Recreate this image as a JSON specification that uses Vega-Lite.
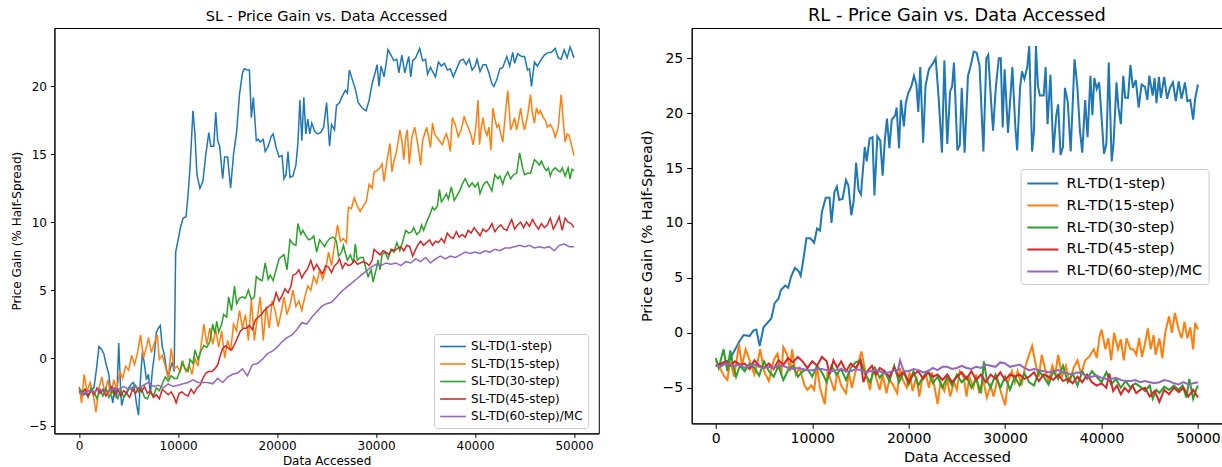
{
"$schema":"https://vega.github.io/schema/vega-lite/v6.json",
"padding":{"left":9.4,"top":6,"right":0,"bottom":0},
"spacing":39.3,
"config":{"font":"DejaVu Sans","view":{"stroke":"black","strokeWidth":1},
"axis":{"grid":false,"domainColor":"black","tickColor":"black","labelColor":"black","titleColor":"black","titleFontWeight":"normal","labelFont":"DejaVu Sans","titleFont":"DejaVu Sans","labelFlush":false,"domainWidth":1,"tickWidth":1},
"legend":{"labelFont":"DejaVu Sans","labelColor":"black"}},
"resolve":{"scale":{"color":"independent"},"legend":{"color":"independent"}},
"datasets":{
"sl1":[{"x":0,"y":-2.5},{"x":300,"y":-2.8},{"x":600,"y":-2.6},{"x":900,"y":-2.8},{"x":1200,"y":-2.3},{"x":1500,"y":-2.2},{"x":1800,"y":-0.5},{"x":2000,"y":0.85},{"x":2300,"y":0.6},{"x":2500,"y":0.3},{"x":2700,"y":-0.4},{"x":3000,"y":-1.2},{"x":3200,"y":-2.5},{"x":3400,"y":-3.3},{"x":3600,"y":-2.2},{"x":3800,"y":-2.9},{"x":4000,"y":1.1},{"x":4200,"y":-2.5},{"x":4300,"y":-3.5},{"x":4500,"y":-2.9},{"x":4800,"y":-2.5},{"x":5000,"y":-2.2},{"x":5300,"y":-1.9},{"x":5500,"y":-1.8},{"x":5800,"y":-3.4},{"x":6000,"y":-4.2},{"x":6200,"y":-1.5},{"x":6400,"y":0.5},{"x":6600,"y":-0.5},{"x":6800,"y":-1.6},{"x":7000,"y":-1.2},{"x":7200,"y":-2.6},{"x":7400,"y":-0.9},{"x":7600,"y":0.2},{"x":7800,"y":1.9},{"x":8000,"y":2.2},{"x":8200,"y":2.4},{"x":8400,"y":0.8},{"x":8600,"y":0.3},{"x":8800,"y":-0.7},{"x":9000,"y":-1.5},{"x":9200,"y":-0.8},{"x":9400,"y":-0.3},{"x":9600,"y":-1.0},{"x":9750,"y":7.8},{"x":10000,"y":8.7},{"x":10200,"y":9.5},{"x":10500,"y":10.3},{"x":10800,"y":10.4},{"x":11000,"y":12.0},{"x":11200,"y":14.0},{"x":11500,"y":18.2},{"x":11700,"y":16.5},{"x":11900,"y":13.5},{"x":12200,"y":12.5},{"x":12500,"y":13.0},{"x":12800,"y":15.0},{"x":13100,"y":16.6},{"x":13300,"y":15.6},{"x":13600,"y":15.6},{"x":13800,"y":18.1},{"x":14000,"y":16.0},{"x":14200,"y":15.6},{"x":14500,"y":13.2},{"x":14700,"y":14.8},{"x":15000,"y":14.8},{"x":15300,"y":12.5},{"x":15600,"y":15.0},{"x":15900,"y":16.6},{"x":16200,"y":19.4},{"x":16500,"y":21.0},{"x":16700,"y":21.3},{"x":17000,"y":21.2},{"x":17200,"y":21.2},{"x":17400,"y":17.7},{"x":17600,"y":19.2},{"x":17900,"y":16.0},{"x":18100,"y":16.1},{"x":18300,"y":15.9},{"x":18600,"y":16.1},{"x":18800,"y":15.2},{"x":19100,"y":15.6},{"x":19400,"y":16.3},{"x":19600,"y":16.5},{"x":19900,"y":15.5},{"x":20200,"y":14.8},{"x":20500,"y":14.9},{"x":20700,"y":13.2},{"x":20900,"y":13.5},{"x":21100,"y":15.2},{"x":21300,"y":13.3},{"x":21600,"y":13.4},{"x":21900,"y":14.2},{"x":22100,"y":15.8},{"x":22300,"y":19.0},{"x":22500,"y":16.0},{"x":22700,"y":19.2},{"x":22900,"y":16.5},{"x":23100,"y":17.6},{"x":23300,"y":16.5},{"x":23500,"y":17.3},{"x":23800,"y":16.7},{"x":24100,"y":16.5},{"x":24400,"y":16.6},{"x":24700,"y":17.0},{"x":25000,"y":18.8},{"x":25300,"y":15.6},{"x":25500,"y":17.2},{"x":25800,"y":16.8},{"x":26000,"y":18.6},{"x":26300,"y":18.8},{"x":26600,"y":19.3},{"x":26900,"y":19.7},{"x":27100,"y":19.5},{"x":27300,"y":21.2},{"x":27600,"y":20.5},{"x":27900,"y":19.8},{"x":28200,"y":18.8},{"x":28500,"y":18.5},{"x":28800,"y":18.3},{"x":29000,"y":18.2},{"x":29300,"y":19.0},{"x":29600,"y":20.2},{"x":29900,"y":21.0},{"x":30100,"y":21.6},{"x":30300,"y":20.0},{"x":30500,"y":21.5},{"x":30800,"y":20.7},{"x":31000,"y":21.6},{"x":31200,"y":22.7},{"x":31500,"y":22.3},{"x":31800,"y":21.9},{"x":32100,"y":22.0},{"x":32300,"y":21.0},{"x":32600,"y":22.3},{"x":32900,"y":21.0},{"x":33100,"y":21.6},{"x":33300,"y":22.2},{"x":33500,"y":20.7},{"x":33700,"y":21.9},{"x":34000,"y":22.1},{"x":34400,"y":22.8},{"x":34700,"y":21.9},{"x":35000,"y":22.0},{"x":35200,"y":20.9},{"x":35500,"y":21.4},{"x":35700,"y":21.1},{"x":36000,"y":20.7},{"x":36300,"y":21.8},{"x":36600,"y":21.5},{"x":36900,"y":21.7},{"x":37200,"y":21.2},{"x":37500,"y":21.3},{"x":37800,"y":20.7},{"x":38200,"y":21.4},{"x":38500,"y":21.9},{"x":38800,"y":22.0},{"x":39100,"y":21.6},{"x":39400,"y":22.0},{"x":39700,"y":21.2},{"x":40000,"y":21.5},{"x":40200,"y":22.0},{"x":40500,"y":21.1},{"x":40800,"y":21.6},{"x":41100,"y":21.6},{"x":41400,"y":21.0},{"x":41700,"y":20.2},{"x":41900,"y":20.0},{"x":42200,"y":20.5},{"x":42500,"y":21.3},{"x":42800,"y":21.4},{"x":43200,"y":22.2},{"x":43500,"y":21.5},{"x":43800,"y":22.5},{"x":44000,"y":21.7},{"x":44300,"y":22.4},{"x":44700,"y":22.2},{"x":45000,"y":22.2},{"x":45300,"y":21.2},{"x":45500,"y":21.3},{"x":45700,"y":20.0},{"x":46000,"y":21.8},{"x":46300,"y":21.5},{"x":46700,"y":22.0},{"x":47000,"y":22.3},{"x":47400,"y":22.5},{"x":47700,"y":22.5},{"x":48100,"y":22.8},{"x":48400,"y":22.1},{"x":48700,"y":22.0},{"x":49000,"y":22.7},{"x":49300,"y":22.1},{"x":49600,"y":22.9},{"x":50000,"y":22.1}],
"sl2":[{"x":0,"y":-2.1},{"x":250,"y":-3.3},{"x":500,"y":-1.2},{"x":800,"y":-2.5},{"x":1100,"y":-1.8},{"x":1400,"y":-2.6},{"x":1700,"y":-4.0},{"x":2000,"y":-2.2},{"x":2300,"y":-1.4},{"x":2600,"y":-2.6},{"x":2900,"y":-1.6},{"x":3200,"y":-2.8},{"x":3500,"y":-1.6},{"x":3800,"y":-2.4},{"x":4100,"y":-1.0},{"x":4400,"y":-1.5},{"x":4700,"y":-0.6},{"x":5000,"y":-0.9},{"x":5300,"y":0.2},{"x":5600,"y":-0.5},{"x":5900,"y":0.4},{"x":6200,"y":1.7},{"x":6500,"y":0.0},{"x":6800,"y":0.8},{"x":7000,"y":1.5},{"x":7300,"y":0.4},{"x":7600,"y":1.1},{"x":7900,"y":1.7},{"x":8100,"y":-0.1},{"x":8400,"y":0.2},{"x":8700,"y":-0.6},{"x":9000,"y":-1.5},{"x":9300,"y":0.7},{"x":9600,"y":-0.8},{"x":9900,"y":-0.6},{"x":10200,"y":-1.0},{"x":10500,"y":-0.3},{"x":10800,"y":-1.0},{"x":11100,"y":-0.5},{"x":11400,"y":-1.2},{"x":11700,"y":0.0},{"x":12000,"y":-0.6},{"x":12300,"y":0.8},{"x":12600,"y":2.5},{"x":12900,"y":1.0},{"x":13200,"y":2.2},{"x":13500,"y":1.0},{"x":13800,"y":2.1},{"x":14100,"y":0.8},{"x":14400,"y":2.0},{"x":14700,"y":0.0},{"x":15000,"y":1.3},{"x":15300,"y":0.5},{"x":15600,"y":2.5},{"x":15900,"y":2.0},{"x":16200,"y":3.5},{"x":16500,"y":2.2},{"x":16800,"y":3.2},{"x":17100,"y":1.3},{"x":17400,"y":4.3},{"x":17700,"y":1.3},{"x":18000,"y":3.0},{"x":18300,"y":4.5},{"x":18600,"y":1.3},{"x":18900,"y":3.8},{"x":19200,"y":2.2},{"x":19500,"y":4.2},{"x":19800,"y":3.5},{"x":20100,"y":2.3},{"x":20400,"y":3.3},{"x":20700,"y":4.5},{"x":21000,"y":3.2},{"x":21300,"y":3.9},{"x":21600,"y":5.0},{"x":21900,"y":3.8},{"x":22200,"y":4.2},{"x":22500,"y":3.5},{"x":22800,"y":4.5},{"x":23100,"y":5.3},{"x":23400,"y":5.0},{"x":23700,"y":6.0},{"x":24000,"y":5.5},{"x":24300,"y":6.5},{"x":24600,"y":5.8},{"x":24900,"y":6.5},{"x":25200,"y":7.8},{"x":25500,"y":6.8},{"x":25800,"y":8.3},{"x":26100,"y":9.8},{"x":26400,"y":8.6},{"x":26700,"y":8.8},{"x":27000,"y":8.5},{"x":27200,"y":11.1},{"x":27500,"y":11.0},{"x":27800,"y":11.8},{"x":28100,"y":11.2},{"x":28400,"y":10.8},{"x":28700,"y":11.2},{"x":29000,"y":11.5},{"x":29300,"y":12.8},{"x":29600,"y":12.5},{"x":29800,"y":13.7},{"x":30100,"y":13.8},{"x":30400,"y":14.0},{"x":30600,"y":14.3},{"x":30800,"y":13.0},{"x":31100,"y":14.5},{"x":31400,"y":15.8},{"x":31600,"y":13.7},{"x":31800,"y":14.5},{"x":32000,"y":15.0},{"x":32200,"y":15.8},{"x":32400,"y":16.8},{"x":32600,"y":16.0},{"x":32800,"y":14.6},{"x":33000,"y":16.3},{"x":33150,"y":16.8},{"x":33350,"y":14.3},{"x":33600,"y":16.2},{"x":33900,"y":17.0},{"x":34200,"y":15.8},{"x":34500,"y":14.2},{"x":34700,"y":16.0},{"x":35100,"y":17.0},{"x":35300,"y":16.3},{"x":35500,"y":15.5},{"x":35700,"y":17.3},{"x":35900,"y":16.5},{"x":36100,"y":16.3},{"x":36400,"y":16.0},{"x":36700,"y":15.7},{"x":36900,"y":16.2},{"x":37100,"y":16.5},{"x":37300,"y":16.0},{"x":37500,"y":15.2},{"x":37700,"y":17.7},{"x":38000,"y":17.2},{"x":38300,"y":16.3},{"x":38600,"y":16.8},{"x":38900,"y":17.8},{"x":39100,"y":17.3},{"x":39300,"y":17.0},{"x":39600,"y":16.4},{"x":39800,"y":15.7},{"x":40050,"y":16.8},{"x":40300,"y":19.0},{"x":40450,"y":15.7},{"x":40600,"y":16.8},{"x":40800,"y":17.7},{"x":41000,"y":16.8},{"x":41200,"y":16.4},{"x":41400,"y":17.0},{"x":41600,"y":15.3},{"x":41800,"y":18.4},{"x":42000,"y":17.6},{"x":42200,"y":17.0},{"x":42400,"y":17.2},{"x":42600,"y":16.5},{"x":42800,"y":15.9},{"x":43000,"y":17.5},{"x":43300,"y":19.7},{"x":43600,"y":16.8},{"x":43800,"y":17.2},{"x":44000,"y":17.7},{"x":44200,"y":16.8},{"x":44400,"y":17.5},{"x":44600,"y":18.4},{"x":44800,"y":17.4},{"x":45000,"y":16.8},{"x":45300,"y":17.8},{"x":45600,"y":19.4},{"x":45800,"y":18.0},{"x":46000,"y":17.3},{"x":46200,"y":18.4},{"x":46400,"y":18.0},{"x":46600,"y":18.2},{"x":46900,"y":17.7},{"x":47100,"y":17.5},{"x":47300,"y":17.0},{"x":47600,"y":17.2},{"x":47900,"y":16.8},{"x":48100,"y":16.2},{"x":48400,"y":17.0},{"x":48700,"y":19.4},{"x":48900,"y":17.5},{"x":49100,"y":15.9},{"x":49300,"y":16.5},{"x":49500,"y":16.4},{"x":49700,"y":15.8},{"x":50000,"y":14.9}],
"sl3":[{"x":0,"y":-2.2},{"x":300,"y":-2.5},{"x":600,"y":-2.3},{"x":900,"y":-2.9},{"x":1200,"y":-2.2},{"x":1500,"y":-2.5},{"x":1800,"y":-3.0},{"x":2100,"y":-2.3},{"x":2400,"y":-2.8},{"x":2700,"y":-2.2},{"x":3000,"y":-2.9},{"x":3300,"y":-2.4},{"x":3600,"y":-2.8},{"x":3900,"y":-3.0},{"x":4200,"y":-2.3},{"x":4500,"y":-2.9},{"x":4800,"y":-2.6},{"x":5100,"y":-2.2},{"x":5400,"y":-2.4},{"x":5700,"y":-2.0},{"x":6000,"y":-2.5},{"x":6300,"y":-2.2},{"x":6600,"y":-2.9},{"x":6900,"y":-3.0},{"x":7200,"y":-2.5},{"x":7500,"y":-2.8},{"x":7800,"y":-2.2},{"x":8100,"y":-2.4},{"x":8400,"y":-1.9},{"x":8700,"y":-1.4},{"x":9000,"y":-1.7},{"x":9300,"y":-1.3},{"x":9600,"y":-1.5},{"x":9900,"y":-1.5},{"x":10200,"y":-0.9},{"x":10400,"y":-0.3},{"x":10700,"y":-0.8},{"x":11000,"y":-1.0},{"x":11200,"y":-0.1},{"x":11500,"y":-0.4},{"x":11700,"y":0.6},{"x":12000,"y":-0.1},{"x":12300,"y":0.5},{"x":12600,"y":0.9},{"x":12900,"y":0.8},{"x":13200,"y":1.2},{"x":13500,"y":2.5},{"x":13700,"y":1.8},{"x":13900,"y":2.7},{"x":14100,"y":1.9},{"x":14400,"y":2.5},{"x":14600,"y":3.2},{"x":14900,"y":3.0},{"x":15100,"y":4.5},{"x":15400,"y":3.5},{"x":15700,"y":5.3},{"x":15900,"y":4.0},{"x":16200,"y":4.4},{"x":16500,"y":4.5},{"x":16800,"y":4.4},{"x":17100,"y":5.0},{"x":17400,"y":4.3},{"x":17700,"y":4.5},{"x":17900,"y":6.0},{"x":18200,"y":5.8},{"x":18500,"y":5.7},{"x":18800,"y":7.0},{"x":19100,"y":5.8},{"x":19300,"y":6.1},{"x":19600,"y":5.7},{"x":19900,"y":6.5},{"x":20200,"y":7.3},{"x":20500,"y":7.5},{"x":20700,"y":7.6},{"x":21000,"y":6.5},{"x":21300,"y":8.7},{"x":21600,"y":8.4},{"x":21900,"y":8.3},{"x":22100,"y":9.9},{"x":22400,"y":9.1},{"x":22600,"y":9.4},{"x":22900,"y":9.0},{"x":23200,"y":8.7},{"x":23500,"y":8.8},{"x":23700,"y":9.0},{"x":24000,"y":7.8},{"x":24300,"y":8.7},{"x":24500,"y":8.5},{"x":24800,"y":8.2},{"x":25000,"y":8.5},{"x":25300,"y":8.8},{"x":25700,"y":8.9},{"x":26000,"y":8.6},{"x":26200,"y":7.5},{"x":26500,"y":7.8},{"x":26700,"y":8.3},{"x":26900,"y":7.7},{"x":27100,"y":7.2},{"x":27400,"y":7.6},{"x":27700,"y":7.0},{"x":27900,"y":8.4},{"x":28100,"y":7.2},{"x":28400,"y":7.4},{"x":28700,"y":7.4},{"x":29000,"y":6.5},{"x":29200,"y":6.0},{"x":29500,"y":6.5},{"x":29700,"y":5.6},{"x":30000,"y":6.5},{"x":30200,"y":7.2},{"x":30400,"y":6.5},{"x":30600,"y":7.6},{"x":30900,"y":7.8},{"x":31200,"y":7.3},{"x":31500,"y":8.0},{"x":31800,"y":7.8},{"x":32100,"y":8.5},{"x":32400,"y":7.9},{"x":32700,"y":8.6},{"x":33000,"y":9.4},{"x":33300,"y":9.2},{"x":33600,"y":9.3},{"x":33800,"y":9.6},{"x":34100,"y":9.1},{"x":34400,"y":9.3},{"x":34600,"y":9.8},{"x":34800,"y":9.4},{"x":35100,"y":10.0},{"x":35400,"y":10.5},{"x":35700,"y":11.1},{"x":35900,"y":10.9},{"x":36200,"y":11.2},{"x":36400,"y":12.4},{"x":36600,"y":11.5},{"x":36800,"y":11.7},{"x":37100,"y":12.1},{"x":37300,"y":11.7},{"x":37600,"y":12.6},{"x":37900,"y":11.6},{"x":38200,"y":12.0},{"x":38500,"y":12.4},{"x":38700,"y":12.8},{"x":39000,"y":13.2},{"x":39200,"y":12.9},{"x":39400,"y":12.6},{"x":39700,"y":12.9},{"x":40000,"y":12.6},{"x":40300,"y":12.9},{"x":40500,"y":12.1},{"x":40800,"y":12.7},{"x":41000,"y":12.9},{"x":41200,"y":13.0},{"x":41500,"y":12.6},{"x":41700,"y":12.3},{"x":42000,"y":13.5},{"x":42300,"y":13.2},{"x":42500,"y":13.4},{"x":42800,"y":12.8},{"x":43000,"y":13.3},{"x":43300,"y":13.7},{"x":43600,"y":13.2},{"x":43900,"y":13.5},{"x":44200,"y":13.6},{"x":44500,"y":15.1},{"x":44800,"y":14.0},{"x":45000,"y":13.5},{"x":45300,"y":13.6},{"x":45600,"y":13.6},{"x":45800,"y":14.1},{"x":46000,"y":14.6},{"x":46300,"y":14.4},{"x":46500,"y":14.2},{"x":46700,"y":14.5},{"x":47000,"y":14.0},{"x":47200,"y":13.8},{"x":47400,"y":14.0},{"x":47600,"y":13.4},{"x":47800,"y":13.8},{"x":48100,"y":14.0},{"x":48400,"y":13.8},{"x":48600,"y":13.7},{"x":48800,"y":14.0},{"x":49100,"y":13.4},{"x":49400,"y":14.0},{"x":49600,"y":13.2},{"x":49800,"y":13.9},{"x":50000,"y":13.8}],
"sl4":[{"x":0,"y":-2.4},{"x":300,"y":-2.6},{"x":600,"y":-2.3},{"x":900,"y":-2.8},{"x":1200,"y":-2.4},{"x":1500,"y":-2.7},{"x":1800,"y":-2.2},{"x":2100,"y":-2.6},{"x":2400,"y":-2.3},{"x":2700,"y":-2.8},{"x":3000,"y":-2.4},{"x":3300,"y":-2.1},{"x":3600,"y":-2.7},{"x":3900,"y":-2.3},{"x":4200,"y":-2.8},{"x":4500,"y":-2.4},{"x":4800,"y":-2.6},{"x":5100,"y":-2.9},{"x":5400,"y":-2.3},{"x":5700,"y":-2.6},{"x":6000,"y":-2.2},{"x":6300,"y":-2.5},{"x":6600,"y":-2.1},{"x":6900,"y":-2.6},{"x":7200,"y":-2.4},{"x":7500,"y":-2.9},{"x":7800,"y":-2.7},{"x":8100,"y":-3.0},{"x":8400,"y":-2.3},{"x":8700,"y":-2.5},{"x":9000,"y":-2.7},{"x":9300,"y":-2.5},{"x":9600,"y":-2.9},{"x":9800,"y":-3.3},{"x":10100,"y":-2.6},{"x":10400,"y":-2.5},{"x":10700,"y":-2.7},{"x":11000,"y":-2.8},{"x":11300,"y":-2.3},{"x":11600,"y":-2.6},{"x":11900,"y":-2.2},{"x":12200,"y":-2.0},{"x":12500,"y":-1.5},{"x":12800,"y":-1.1},{"x":13100,"y":-1.0},{"x":13400,"y":-1.0},{"x":13700,"y":-0.8},{"x":14000,"y":-0.5},{"x":14300,"y":0.3},{"x":14500,"y":0.7},{"x":14800,"y":0.9},{"x":15100,"y":0.7},{"x":15400,"y":0.6},{"x":15700,"y":1.0},{"x":16000,"y":1.5},{"x":16300,"y":2.0},{"x":16600,"y":2.2},{"x":16900,"y":2.2},{"x":17200,"y":2.4},{"x":17500,"y":2.1},{"x":17800,"y":2.8},{"x":18100,"y":3.0},{"x":18400,"y":3.2},{"x":18700,"y":3.5},{"x":19000,"y":3.7},{"x":19300,"y":3.9},{"x":19600,"y":4.0},{"x":19900,"y":4.8},{"x":20200,"y":4.2},{"x":20500,"y":4.6},{"x":20800,"y":5.1},{"x":21100,"y":4.8},{"x":21400,"y":5.3},{"x":21600,"y":6.1},{"x":21900,"y":6.2},{"x":22200,"y":6.5},{"x":22500,"y":5.9},{"x":22800,"y":6.3},{"x":23100,"y":6.6},{"x":23400,"y":7.2},{"x":23700,"y":6.5},{"x":24000,"y":6.9},{"x":24300,"y":6.5},{"x":24600,"y":6.2},{"x":24900,"y":6.8},{"x":25200,"y":6.7},{"x":25500,"y":6.3},{"x":25800,"y":6.8},{"x":26100,"y":7.0},{"x":26300,"y":7.3},{"x":26600,"y":6.6},{"x":26900,"y":7.0},{"x":27200,"y":6.8},{"x":27500,"y":6.9},{"x":27800,"y":7.2},{"x":28100,"y":6.9},{"x":28400,"y":7.0},{"x":28700,"y":7.1},{"x":29000,"y":7.0},{"x":29300,"y":6.8},{"x":29600,"y":7.2},{"x":29800,"y":8.0},{"x":30100,"y":7.8},{"x":30400,"y":7.6},{"x":30700,"y":7.9},{"x":31000,"y":7.8},{"x":31300,"y":7.6},{"x":31600,"y":8.0},{"x":31900,"y":7.9},{"x":32200,"y":8.1},{"x":32500,"y":8.2},{"x":32800,"y":7.9},{"x":33100,"y":8.3},{"x":33400,"y":8.2},{"x":33700,"y":7.5},{"x":34000,"y":8.0},{"x":34200,"y":8.3},{"x":34500,"y":8.6},{"x":34800,"y":8.3},{"x":35100,"y":8.5},{"x":35400,"y":8.7},{"x":35700,"y":8.3},{"x":36000,"y":8.6},{"x":36300,"y":8.5},{"x":36600,"y":8.8},{"x":36900,"y":8.5},{"x":37200,"y":9.2},{"x":37500,"y":8.9},{"x":37800,"y":8.8},{"x":38100,"y":9.3},{"x":38400,"y":8.9},{"x":38700,"y":9.1},{"x":39000,"y":8.9},{"x":39300,"y":9.4},{"x":39600,"y":9.2},{"x":39900,"y":9.6},{"x":40200,"y":9.3},{"x":40500,"y":9.0},{"x":40800,"y":9.5},{"x":41100,"y":9.3},{"x":41400,"y":9.5},{"x":41700,"y":9.9},{"x":42000,"y":9.3},{"x":42300,"y":9.6},{"x":42600,"y":9.8},{"x":42900,"y":9.5},{"x":43200,"y":9.4},{"x":43500,"y":9.9},{"x":43700,"y":10.2},{"x":44000,"y":9.5},{"x":44300,"y":9.8},{"x":44600,"y":10.0},{"x":44900,"y":9.6},{"x":45200,"y":10.0},{"x":45500,"y":9.7},{"x":45800,"y":10.2},{"x":46100,"y":9.8},{"x":46400,"y":9.5},{"x":46700,"y":9.9},{"x":47000,"y":9.6},{"x":47300,"y":9.8},{"x":47600,"y":10.3},{"x":47900,"y":9.5},{"x":48200,"y":9.9},{"x":48500,"y":10.4},{"x":48800,"y":9.4},{"x":49100,"y":10.3},{"x":49400,"y":10.0},{"x":49700,"y":9.9},{"x":50000,"y":9.6}],
"sl5":[{"x":0,"y":-2.5},{"x":500,"y":-2.6},{"x":1000,"y":-2.4},{"x":1500,"y":-2.5},{"x":2000,"y":-2.3},{"x":2500,"y":-2.5},{"x":3000,"y":-2.4},{"x":3500,"y":-2.2},{"x":4000,"y":-2.3},{"x":4500,"y":-2.1},{"x":5000,"y":-2.3},{"x":5500,"y":-2.1},{"x":6000,"y":-2.2},{"x":6500,"y":-2.0},{"x":7000,"y":-1.8},{"x":7500,"y":-2.1},{"x":8000,"y":-2.0},{"x":8500,"y":-2.2},{"x":9000,"y":-1.9},{"x":9500,"y":-2.1},{"x":10000,"y":-2.0},{"x":10500,"y":-1.9},{"x":11000,"y":-1.8},{"x":11500,"y":-1.6},{"x":12000,"y":-1.8},{"x":12500,"y":-1.8},{"x":13000,"y":-1.8},{"x":13500,"y":-1.9},{"x":14000,"y":-1.5},{"x":14500,"y":-1.8},{"x":15000,"y":-1.4},{"x":15500,"y":-1.2},{"x":16000,"y":-1.1},{"x":16500,"y":-0.8},{"x":17000,"y":-1.3},{"x":17500,"y":-0.5},{"x":18000,"y":-0.4},{"x":18500,"y":-0.1},{"x":19000,"y":0.3},{"x":19500,"y":0.5},{"x":20000,"y":0.8},{"x":20500,"y":1.2},{"x":21000,"y":1.5},{"x":21500,"y":1.7},{"x":22000,"y":2.1},{"x":22500,"y":2.6},{"x":23000,"y":2.5},{"x":23500,"y":3.0},{"x":24000,"y":3.4},{"x":24500,"y":3.8},{"x":25000,"y":4.0},{"x":25500,"y":4.1},{"x":26000,"y":4.5},{"x":26500,"y":4.9},{"x":27000,"y":5.2},{"x":27500,"y":5.5},{"x":28000,"y":5.8},{"x":28500,"y":6.1},{"x":29000,"y":6.4},{"x":29500,"y":6.7},{"x":30000,"y":6.9},{"x":30500,"y":6.8},{"x":31000,"y":7.0},{"x":31500,"y":6.9},{"x":32000,"y":7.0},{"x":32500,"y":6.8},{"x":33000,"y":7.1},{"x":33500,"y":7.0},{"x":34000,"y":7.3},{"x":34500,"y":7.1},{"x":35000,"y":7.4},{"x":35500,"y":7.0},{"x":36000,"y":7.3},{"x":36500,"y":7.5},{"x":37000,"y":7.3},{"x":37500,"y":7.5},{"x":38000,"y":7.4},{"x":38500,"y":7.6},{"x":39000,"y":7.8},{"x":39500,"y":7.7},{"x":40000,"y":7.8},{"x":40500,"y":7.7},{"x":41000,"y":7.9},{"x":41500,"y":7.8},{"x":42000,"y":8.0},{"x":42500,"y":7.9},{"x":43000,"y":8.1},{"x":43500,"y":8.1},{"x":44000,"y":8.2},{"x":44500,"y":8.3},{"x":45000,"y":8.2},{"x":45500,"y":8.3},{"x":46000,"y":8.1},{"x":46500,"y":8.2},{"x":47000,"y":8.1},{"x":47500,"y":8.2},{"x":48000,"y":7.9},{"x":48500,"y":8.3},{"x":49000,"y":8.4},{"x":49500,"y":8.2},{"x":50000,"y":8.2}],
"rl1":[{"x":0,"y":-3.0},{"x":500,"y":-3.0},{"x":1000,"y":-2.7},{"x":1500,"y":-2.4},{"x":1700,"y":-2.0},{"x":2200,"y":-1.2},{"x":2500,"y":-0.7},{"x":2900,"y":-0.2},{"x":3500,"y":-0.3},{"x":3900,"y":0.2},{"x":4200,"y":0.3},{"x":4550,"y":-1.2},{"x":4950,"y":0.5},{"x":5350,"y":0.9},{"x":5750,"y":1.3},{"x":6100,"y":2.7},{"x":6500,"y":3.1},{"x":6750,"y":3.9},{"x":7200,"y":4.3},{"x":7500,"y":4.1},{"x":7800,"y":5.1},{"x":8200,"y":5.9},{"x":8600,"y":5.6},{"x":8800,"y":5.2},{"x":9050,"y":6.5},{"x":9400,"y":8.6},{"x":9800,"y":8.6},{"x":10200,"y":8.2},{"x":10500,"y":9.5},{"x":10800,"y":9.3},{"x":11000,"y":11.0},{"x":11400,"y":12.3},{"x":11800,"y":12.3},{"x":12000,"y":10.0},{"x":12300,"y":12.8},{"x":12550,"y":13.3},{"x":12800,"y":12.1},{"x":13150,"y":12.2},{"x":13500,"y":13.9},{"x":13750,"y":13.4},{"x":14050,"y":10.7},{"x":14300,"y":12.0},{"x":14550,"y":15.5},{"x":14800,"y":13.0},{"x":15050,"y":12.6},{"x":15450,"y":16.9},{"x":15650,"y":15.6},{"x":15950,"y":17.7},{"x":16250,"y":17.8},{"x":16450,"y":12.5},{"x":16750,"y":17.9},{"x":17050,"y":17.5},{"x":17300,"y":14.3},{"x":17550,"y":17.8},{"x":17750,"y":19.5},{"x":18000,"y":16.8},{"x":18250,"y":19.4},{"x":18600,"y":19.8},{"x":18750,"y":20.5},{"x":19000,"y":16.8},{"x":19200,"y":21.2},{"x":19500,"y":18.8},{"x":19700,"y":20.9},{"x":19950,"y":21.8},{"x":20300,"y":22.5},{"x":20550,"y":23.4},{"x":20800,"y":22.6},{"x":21000,"y":20.1},{"x":21200,"y":24.2},{"x":21500,"y":17.3},{"x":21750,"y":22.5},{"x":22100,"y":24.0},{"x":22500,"y":24.5},{"x":22800,"y":25.0},{"x":23100,"y":21.5},{"x":23450,"y":16.4},{"x":23700,"y":24.8},{"x":24000,"y":17.2},{"x":24300,"y":22.0},{"x":24500,"y":22.4},{"x":24700,"y":24.6},{"x":25050,"y":16.6},{"x":25300,"y":17.1},{"x":25500,"y":22.3},{"x":25800,"y":16.4},{"x":26150,"y":23.4},{"x":26400,"y":24.2},{"x":26750,"y":25.6},{"x":27050,"y":25.5},{"x":27350,"y":24.3},{"x":27750,"y":16.5},{"x":28050,"y":25.0},{"x":28250,"y":25.3},{"x":28550,"y":21.0},{"x":28750,"y":18.4},{"x":29050,"y":22.5},{"x":29350,"y":25.0},{"x":29550,"y":25.0},{"x":29750,"y":18.7},{"x":29950,"y":24.0},{"x":30300,"y":18.2},{"x":30550,"y":21.5},{"x":30750,"y":24.2},{"x":31050,"y":18.9},{"x":31250,"y":16.6},{"x":31550,"y":22.3},{"x":31750,"y":23.8},{"x":32000,"y":23.1},{"x":32300,"y":24.2},{"x":32500,"y":26.1},{"x":32800,"y":16.5},{"x":33000,"y":18.5},{"x":33200,"y":26.1},{"x":33400,"y":22.5},{"x":33600,"y":21.6},{"x":34000,"y":21.6},{"x":34200,"y":24.2},{"x":34400,"y":19.0},{"x":34700,"y":23.5},{"x":35000,"y":16.4},{"x":35300,"y":19.8},{"x":35500,"y":20.8},{"x":35750,"y":16.2},{"x":36000,"y":16.9},{"x":36200,"y":22.3},{"x":36500,"y":21.0},{"x":36800,"y":16.5},{"x":37200,"y":24.9},{"x":37500,"y":22.3},{"x":37750,"y":18.5},{"x":38000,"y":16.4},{"x":38300,"y":21.2},{"x":38550,"y":17.8},{"x":38850,"y":23.4},{"x":39050,"y":19.8},{"x":39250,"y":23.2},{"x":39500,"y":22.2},{"x":39750,"y":22.8},{"x":40050,"y":19.0},{"x":40250,"y":16.3},{"x":40500,"y":17.2},{"x":40750,"y":24.6},{"x":41050,"y":15.6},{"x":41250,"y":17.3},{"x":41550,"y":22.8},{"x":41750,"y":20.5},{"x":42000,"y":19.0},{"x":42250,"y":23.4},{"x":42450,"y":21.4},{"x":42750,"y":21.4},{"x":43000,"y":24.4},{"x":43250,"y":22.3},{"x":43550,"y":23.0},{"x":43850,"y":20.5},{"x":44150,"y":22.6},{"x":44500,"y":22.4},{"x":44750,"y":21.2},{"x":44950,"y":23.4},{"x":45300,"y":21.6},{"x":45500,"y":23.2},{"x":45700,"y":20.9},{"x":45950,"y":23.3},{"x":46150,"y":21.4},{"x":46500,"y":23.3},{"x":46800,"y":21.3},{"x":47100,"y":22.3},{"x":47400,"y":22.8},{"x":47700,"y":21.1},{"x":48000,"y":22.9},{"x":48300,"y":21.3},{"x":48650,"y":22.8},{"x":48900,"y":21.1},{"x":49200,"y":21.2},{"x":49500,"y":19.4},{"x":49700,"y":21.3},{"x":50000,"y":22.6}],
"rl2":[{"x":0,"y":-2.5},{"x":300,"y":-3.0},{"x":600,"y":-3.5},{"x":900,"y":-4.0},{"x":1200,"y":-4.3},{"x":1500,"y":-2.5},{"x":1900,"y":-4.0},{"x":2200,"y":-2.3},{"x":2400,"y":-1.0},{"x":2700,"y":-3.0},{"x":3100,"y":-1.5},{"x":3500,"y":-2.5},{"x":4000,"y":-3.8},{"x":4300,"y":-2.8},{"x":4600,"y":-1.5},{"x":5000,"y":-3.5},{"x":5500,"y":-4.4},{"x":6000,"y":-2.5},{"x":6400,"y":-1.9},{"x":6800,"y":-3.8},{"x":7000,"y":-1.3},{"x":7400,"y":-2.0},{"x":7700,"y":-3.5},{"x":7900,"y":-1.5},{"x":8300,"y":-3.8},{"x":8700,"y":-3.2},{"x":9200,"y":-4.8},{"x":9500,"y":-5.2},{"x":9900,"y":-4.8},{"x":10200,"y":-5.2},{"x":10500,"y":-3.0},{"x":10800,"y":-5.0},{"x":11300,"y":-6.5},{"x":11600,"y":-3.5},{"x":12000,"y":-4.5},{"x":12300,"y":-5.3},{"x":12600,"y":-3.6},{"x":13000,"y":-4.8},{"x":13500,"y":-5.5},{"x":13800,"y":-3.6},{"x":14100,"y":-5.0},{"x":14500,"y":-3.5},{"x":14800,"y":-2.7},{"x":15100,"y":-1.7},{"x":15500,"y":-3.5},{"x":16000,"y":-5.2},{"x":16300,"y":-3.2},{"x":16600,"y":-4.0},{"x":17000,"y":-5.2},{"x":17300,"y":-3.8},{"x":17700,"y":-5.5},{"x":18000,"y":-4.2},{"x":18400,"y":-4.8},{"x":18800,"y":-5.5},{"x":19100,"y":-3.2},{"x":19400,"y":-4.3},{"x":19800,"y":-5.0},{"x":20100,"y":-3.6},{"x":20400,"y":-5.3},{"x":20800,"y":-4.0},{"x":21100,"y":-5.8},{"x":21400,"y":-4.2},{"x":21800,"y":-3.8},{"x":22100,"y":-5.0},{"x":22400,"y":-3.6},{"x":22800,"y":-5.5},{"x":23000,"y":-6.5},{"x":23300,"y":-4.5},{"x":23700,"y":-5.3},{"x":24000,"y":-4.2},{"x":24300,"y":-5.8},{"x":24700,"y":-4.5},{"x":25000,"y":-5.2},{"x":25300,"y":-3.5},{"x":25700,"y":-4.0},{"x":26000,"y":-5.8},{"x":26300,"y":-4.0},{"x":26700,"y":-5.0},{"x":27000,"y":-3.8},{"x":27300,"y":-5.5},{"x":27700,"y":-4.2},{"x":28100,"y":-5.9},{"x":28500,"y":-4.8},{"x":28800,"y":-5.8},{"x":29200,"y":-4.2},{"x":29600,"y":-5.5},{"x":30000,"y":-6.6},{"x":30300,"y":-4.5},{"x":30700,"y":-3.5},{"x":31000,"y":-4.5},{"x":31300,"y":-3.5},{"x":31700,"y":-4.8},{"x":32000,"y":-3.4},{"x":32300,"y":-2.5},{"x":32800,"y":-1.2},{"x":33200,"y":-3.0},{"x":33500,"y":-4.0},{"x":33800,"y":-2.0},{"x":34200,"y":-3.5},{"x":34500,"y":-4.5},{"x":34900,"y":-3.0},{"x":35200,"y":-3.8},{"x":35500,"y":-2.0},{"x":35900,"y":-4.0},{"x":36300,"y":-3.0},{"x":36700,"y":-4.5},{"x":37100,"y":-3.2},{"x":37500,"y":-2.5},{"x":37900,"y":-3.8},{"x":38300,"y":-2.5},{"x":38700,"y":-2.2},{"x":39200,"y":-1.5},{"x":39500,"y":-2.3},{"x":39800,"y":-0.3},{"x":40000,"y":0.3},{"x":40400,"y":-1.5},{"x":40700,"y":-0.5},{"x":41000,"y":-2.5},{"x":41300,"y":0.0},{"x":41700,"y":-1.5},{"x":42000,"y":-0.6},{"x":42300,"y":-2.5},{"x":42600,"y":-0.5},{"x":43000,"y":-1.5},{"x":43300,"y":-1.5},{"x":43600,"y":-2.0},{"x":43900,"y":-0.5},{"x":44200,"y":-2.2},{"x":44500,"y":-1.0},{"x":44800,"y":0.4},{"x":45100,"y":-1.5},{"x":45400,"y":-0.2},{"x":45600,"y":-2.0},{"x":46000,"y":-0.5},{"x":46300,"y":-2.3},{"x":46600,"y":0.0},{"x":47000,"y":1.5},{"x":47300,"y":0.0},{"x":47600,"y":1.8},{"x":48000,"y":0.3},{"x":48300,"y":-0.5},{"x":48600,"y":1.0},{"x":48900,"y":-0.5},{"x":49200,"y":0.5},{"x":49500,"y":-1.5},{"x":49700,"y":0.9},{"x":50000,"y":0.3}],
"rl3":[{"x":0,"y":-2.3},{"x":300,"y":-3.2},{"x":800,"y":-1.5},{"x":1200,"y":-3.5},{"x":1500,"y":-1.6},{"x":1800,"y":-3.0},{"x":2100,"y":-4.0},{"x":2500,"y":-3.0},{"x":3000,"y":-3.5},{"x":3500,"y":-2.8},{"x":4000,"y":-3.2},{"x":4500,"y":-3.9},{"x":5000,"y":-2.6},{"x":5500,"y":-3.5},{"x":6000,"y":-4.0},{"x":6500,"y":-3.0},{"x":7000,"y":-4.3},{"x":7500,"y":-3.4},{"x":8000,"y":-3.0},{"x":8500,"y":-4.0},{"x":9000,"y":-3.5},{"x":9500,"y":-3.3},{"x":10000,"y":-4.0},{"x":10500,"y":-3.0},{"x":11000,"y":-3.6},{"x":11500,"y":-4.5},{"x":12000,"y":-3.0},{"x":12500,"y":-3.8},{"x":13000,"y":-3.3},{"x":13500,"y":-4.3},{"x":14000,"y":-3.2},{"x":14500,"y":-2.7},{"x":15000,"y":-2.5},{"x":15500,"y":-3.8},{"x":16000,"y":-4.5},{"x":16500,"y":-3.2},{"x":17000,"y":-4.1},{"x":17500,"y":-3.5},{"x":18000,"y":-4.4},{"x":18500,"y":-3.0},{"x":19000,"y":-4.5},{"x":19500,"y":-3.6},{"x":20000,"y":-4.7},{"x":20500,"y":-3.5},{"x":21000,"y":-4.8},{"x":21500,"y":-4.0},{"x":22000,"y":-3.5},{"x":22500,"y":-4.6},{"x":23000,"y":-4.0},{"x":23500,"y":-5.0},{"x":24000,"y":-4.0},{"x":24500,"y":-4.8},{"x":25000,"y":-3.8},{"x":25500,"y":-4.5},{"x":26000,"y":-4.0},{"x":26500,"y":-5.0},{"x":27000,"y":-4.2},{"x":27500,"y":-5.5},{"x":27800,"y":-2.6},{"x":28100,"y":-4.3},{"x":28500,"y":-5.0},{"x":29000,"y":-3.8},{"x":29500,"y":-5.0},{"x":30000,"y":-4.0},{"x":30500,"y":-5.2},{"x":31000,"y":-4.0},{"x":31500,"y":-4.8},{"x":32000,"y":-3.7},{"x":32500,"y":-4.5},{"x":33000,"y":-4.8},{"x":33500,"y":-3.5},{"x":34000,"y":-4.0},{"x":34500,"y":-4.7},{"x":35000,"y":-3.5},{"x":35500,"y":-4.2},{"x":36000,"y":-3.0},{"x":36500,"y":-4.5},{"x":37000,"y":-3.7},{"x":37500,"y":-4.8},{"x":38000,"y":-3.5},{"x":38500,"y":-4.2},{"x":39000,"y":-3.5},{"x":39500,"y":-4.0},{"x":40000,"y":-4.5},{"x":40500,"y":-3.6},{"x":41000,"y":-4.7},{"x":41500,"y":-4.2},{"x":42000,"y":-5.0},{"x":42500,"y":-4.4},{"x":43000,"y":-5.0},{"x":43500,"y":-4.6},{"x":44000,"y":-4.9},{"x":44500,"y":-5.3},{"x":45000,"y":-4.8},{"x":45300,"y":-6.0},{"x":45700,"y":-5.2},{"x":46000,"y":-5.5},{"x":46500,"y":-4.9},{"x":47000,"y":-5.2},{"x":47500,"y":-4.8},{"x":48000,"y":-5.2},{"x":48400,"y":-4.8},{"x":48800,"y":-5.9},{"x":49100,"y":-4.2},{"x":49500,"y":-6.0},{"x":49800,"y":-5.2},{"x":50000,"y":-4.8}],
"rl4":[{"x":0,"y":-3.0},{"x":500,"y":-2.8},{"x":1000,"y":-2.6},{"x":1500,"y":-3.0},{"x":2000,"y":-2.6},{"x":2500,"y":-2.9},{"x":3000,"y":-2.8},{"x":3500,"y":-3.3},{"x":4000,"y":-2.5},{"x":4500,"y":-3.0},{"x":5000,"y":-3.2},{"x":5500,"y":-2.8},{"x":6000,"y":-3.3},{"x":6500,"y":-2.5},{"x":7000,"y":-2.9},{"x":7500,"y":-2.3},{"x":8000,"y":-2.7},{"x":8500,"y":-2.2},{"x":9000,"y":-2.6},{"x":9500,"y":-3.2},{"x":10000,"y":-2.6},{"x":10500,"y":-3.0},{"x":11000,"y":-2.2},{"x":11500,"y":-2.6},{"x":11800,"y":-3.8},{"x":12200,"y":-2.5},{"x":12600,"y":-3.2},{"x":13000,"y":-2.6},{"x":13500,"y":-3.5},{"x":14000,"y":-2.8},{"x":14500,"y":-3.2},{"x":15000,"y":-2.5},{"x":15300,"y":-4.5},{"x":15700,"y":-3.5},{"x":16200,"y":-3.0},{"x":16600,"y":-3.8},{"x":17000,"y":-3.2},{"x":17500,"y":-3.5},{"x":18000,"y":-4.0},{"x":18500,"y":-3.2},{"x":19000,"y":-4.0},{"x":19500,"y":-3.5},{"x":20000,"y":-4.5},{"x":20500,"y":-3.8},{"x":21000,"y":-3.5},{"x":21500,"y":-4.2},{"x":22000,"y":-3.6},{"x":22500,"y":-4.0},{"x":23000,"y":-3.8},{"x":23500,"y":-4.3},{"x":24000,"y":-3.8},{"x":24500,"y":-4.5},{"x":25000,"y":-4.0},{"x":25500,"y":-3.6},{"x":26000,"y":-4.2},{"x":26500,"y":-3.5},{"x":27000,"y":-4.3},{"x":27500,"y":-3.8},{"x":28000,"y":-4.5},{"x":28500,"y":-3.8},{"x":29000,"y":-4.2},{"x":29500,"y":-3.6},{"x":30000,"y":-4.3},{"x":30500,"y":-3.8},{"x":31000,"y":-4.0},{"x":31500,"y":-3.8},{"x":32000,"y":-4.2},{"x":32500,"y":-4.0},{"x":33000,"y":-3.6},{"x":33500,"y":-4.4},{"x":34000,"y":-3.8},{"x":34500,"y":-4.0},{"x":35000,"y":-4.3},{"x":35500,"y":-3.8},{"x":36000,"y":-4.4},{"x":36500,"y":-4.2},{"x":37000,"y":-4.6},{"x":37500,"y":-4.0},{"x":38000,"y":-4.5},{"x":38500,"y":-3.8},{"x":39000,"y":-4.5},{"x":39500,"y":-4.8},{"x":40000,"y":-4.6},{"x":40500,"y":-5.0},{"x":40800,"y":-3.7},{"x":41200,"y":-5.3},{"x":41600,"y":-4.8},{"x":42000,"y":-5.6},{"x":42400,"y":-5.0},{"x":42800,"y":-5.4},{"x":43200,"y":-4.8},{"x":43600,"y":-5.5},{"x":44000,"y":-5.2},{"x":44500,"y":-5.0},{"x":45000,"y":-5.8},{"x":45500,"y":-5.3},{"x":46000,"y":-6.3},{"x":46500,"y":-5.2},{"x":47000,"y":-5.6},{"x":47500,"y":-5.0},{"x":48000,"y":-5.4},{"x":48500,"y":-5.0},{"x":49000,"y":-5.8},{"x":49500,"y":-5.2},{"x":50000,"y":-5.9}],
"rl5":[{"x":0,"y":-2.9},{"x":500,"y":-3.1},{"x":1000,"y":-2.8},{"x":1500,"y":-2.9},{"x":2000,"y":-3.0},{"x":2500,"y":-2.9},{"x":3000,"y":-3.2},{"x":3500,"y":-3.0},{"x":4000,"y":-2.9},{"x":4500,"y":-3.1},{"x":5000,"y":-3.2},{"x":5500,"y":-3.1},{"x":6000,"y":-3.2},{"x":6500,"y":-3.0},{"x":7000,"y":-3.0},{"x":7500,"y":-3.2},{"x":8000,"y":-3.3},{"x":8500,"y":-3.2},{"x":9000,"y":-3.3},{"x":9500,"y":-3.4},{"x":10000,"y":-3.4},{"x":10500,"y":-3.3},{"x":11000,"y":-3.3},{"x":11500,"y":-3.4},{"x":12000,"y":-3.5},{"x":12500,"y":-3.4},{"x":13000,"y":-3.3},{"x":13500,"y":-3.5},{"x":14000,"y":-3.5},{"x":14500,"y":-3.3},{"x":15000,"y":-3.4},{"x":15500,"y":-3.6},{"x":16000,"y":-3.5},{"x":16500,"y":-3.4},{"x":17000,"y":-3.5},{"x":17500,"y":-3.7},{"x":18000,"y":-3.6},{"x":18500,"y":-3.4},{"x":18900,"y":-3.4},{"x":19100,"y":-2.5},{"x":19500,"y":-3.5},{"x":20000,"y":-3.5},{"x":20500,"y":-3.3},{"x":21000,"y":-3.4},{"x":21500,"y":-3.6},{"x":22000,"y":-3.5},{"x":22500,"y":-3.2},{"x":23000,"y":-3.4},{"x":23500,"y":-3.1},{"x":24000,"y":-3.1},{"x":24500,"y":-3.3},{"x":25000,"y":-3.2},{"x":25500,"y":-3.0},{"x":26000,"y":-3.2},{"x":26500,"y":-3.3},{"x":27000,"y":-3.1},{"x":27500,"y":-3.2},{"x":28000,"y":-2.9},{"x":28500,"y":-3.0},{"x":29000,"y":-3.1},{"x":29500,"y":-2.7},{"x":30000,"y":-2.8},{"x":30500,"y":-3.1},{"x":31000,"y":-3.0},{"x":31500,"y":-2.9},{"x":32000,"y":-3.2},{"x":32500,"y":-3.4},{"x":33000,"y":-3.3},{"x":33500,"y":-3.4},{"x":34000,"y":-3.5},{"x":34500,"y":-3.6},{"x":35000,"y":-3.5},{"x":35500,"y":-3.4},{"x":36000,"y":-3.6},{"x":36500,"y":-3.7},{"x":37000,"y":-3.8},{"x":37500,"y":-3.6},{"x":38000,"y":-3.7},{"x":38500,"y":-4.0},{"x":39000,"y":-4.0},{"x":39500,"y":-3.9},{"x":40000,"y":-4.1},{"x":40500,"y":-4.2},{"x":41000,"y":-4.2},{"x":41500,"y":-4.1},{"x":42000,"y":-4.3},{"x":42500,"y":-4.4},{"x":43000,"y":-4.4},{"x":43500,"y":-4.3},{"x":44000,"y":-4.5},{"x":44500,"y":-4.4},{"x":45000,"y":-4.5},{"x":45500,"y":-4.6},{"x":46000,"y":-4.5},{"x":46500,"y":-4.3},{"x":47000,"y":-4.4},{"x":47500,"y":-4.6},{"x":48000,"y":-4.7},{"x":48500,"y":-4.5},{"x":49000,"y":-4.7},{"x":49500,"y":-4.6},{"x":50000,"y":-4.5}]
},
"hconcat":[
{"width":544.4,"height":405.4,
"title":{"text":"SL - Price Gain vs. Data Accessed","fontSize":14.5,"fontWeight":"normal","color":"black","offset":3.3,"anchor":"middle","font":"DejaVu Sans"},
"encoding":{
"x":{"field":"x","type":"quantitative","scale":{"domain":[-2500,52500],"nice":false,"zero":false},"axis":{"title":"Data Accessed","values":[0,10000,20000,30000,40000,50000],"format":"d","labelFontSize":12,"titleFontSize":12,"tickSize":4,"labelPadding":3,"titlePadding":4}},
"y":{"field":"y","type":"quantitative","scale":{"domain":[-5.55,24.3],"nice":false,"zero":false},"axis":{"title":"Price Gain (% Half-Spread)","values":[-5,0,5,10,15,20],"labelFontSize":12,"titleFontSize":12,"tickSize":4,"labelPadding":4,"titlePadding":5.4}}},
"layer":[
{"data":{"name":"sl1"},"mark":{"type":"line","strokeWidth":1.5},"encoding":{"color":{"datum":"SL-TD(1-step)","type":"nominal","scale":{"domain":["SL-TD(1-step)","SL-TD(15-step)","SL-TD(30-step)","SL-TD(45-step)","SL-TD(60-step)/MC"],"range":["#1f77b4","#ff7f0e","#2ca02c","#d62728","#9467bd"]},"legend":{"title":null,"orient":"none","legendX":379.7,"legendY":306,"symbolType":"M-1,0L3,0","symbolSize":165,"symbolStrokeWidth":1.6,"labelFontSize":12,"fillColor":"rgba(255,255,255,0.8)","strokeColor":"#cccccc","cornerRadius":3,"padding":5,"rowPadding":3.5,"labelOffset":17}}}},
{"data":{"name":"sl2"},"mark":{"type":"line","strokeWidth":1.5},"encoding":{"color":{"datum":"SL-TD(15-step)","type":"nominal"}}},
{"data":{"name":"sl3"},"mark":{"type":"line","strokeWidth":1.5},"encoding":{"color":{"datum":"SL-TD(30-step)","type":"nominal"}}},
{"data":{"name":"sl4"},"mark":{"type":"line","strokeWidth":1.5},"encoding":{"color":{"datum":"SL-TD(45-step)","type":"nominal"}}},
{"data":{"name":"sl5"},"mark":{"type":"line","strokeWidth":1.5},"encoding":{"color":{"datum":"SL-TD(60-step)/MC","type":"nominal"}}}
]},
{"width":530.4,"height":395.4,
"title":{"text":"RL - Price Gain vs. Data Accessed","fontSize":17.8,"fontWeight":"normal","color":"black","offset":3.6,"anchor":"middle","font":"DejaVu Sans"},
"encoding":{
"x":{"field":"x","type":"quantitative","scale":{"domain":[-2500,52500],"nice":false,"zero":false},"axis":{"title":"Data Accessed","values":[0,10000,20000,30000,40000,50000],"format":"d","labelFontSize":14,"titleFontSize":14.5,"tickSize":5,"labelPadding":3,"titlePadding":5}},
"y":{"field":"y","type":"quantitative","scale":{"domain":[-8.25,27.75],"nice":false,"zero":false},"axis":{"title":"Price Gain (% Half-Spread)","values":[-5,0,5,10,15,20,25],"labelFontSize":14,"titleFontSize":14.5,"tickSize":5,"labelPadding":4,"titlePadding":7.8}}},
"layer":[
{"data":{"name":"rl1"},"mark":{"type":"line","strokeWidth":2},"encoding":{"color":{"datum":"RL-TD(1-step)","type":"nominal","scale":{"domain":["RL-TD(1-step)","RL-TD(15-step)","RL-TD(30-step)","RL-TD(45-step)","RL-TD(60-step)/MC"],"range":["#1f77b4","#ff7f0e","#2ca02c","#d62728","#9467bd"]},"legend":{"title":null,"orient":"none","legendX":328.9,"legendY":141,"symbolType":"M-1,0L3,0","symbolSize":240,"symbolStrokeWidth":2,"labelFontSize":14.5,"fillColor":"rgba(255,255,255,0.8)","strokeColor":"#cccccc","cornerRadius":3,"padding":5.5,"rowPadding":6,"labelOffset":22.5}}}},
{"data":{"name":"rl2"},"mark":{"type":"line","strokeWidth":2},"encoding":{"color":{"datum":"RL-TD(15-step)","type":"nominal"}}},
{"data":{"name":"rl3"},"mark":{"type":"line","strokeWidth":2},"encoding":{"color":{"datum":"RL-TD(30-step)","type":"nominal"}}},
{"data":{"name":"rl4"},"mark":{"type":"line","strokeWidth":2},"encoding":{"color":{"datum":"RL-TD(45-step)","type":"nominal"}}},
{"data":{"name":"rl5"},"mark":{"type":"line","strokeWidth":2},"encoding":{"color":{"datum":"RL-TD(60-step)/MC","type":"nominal"}}}
]}
]
}
